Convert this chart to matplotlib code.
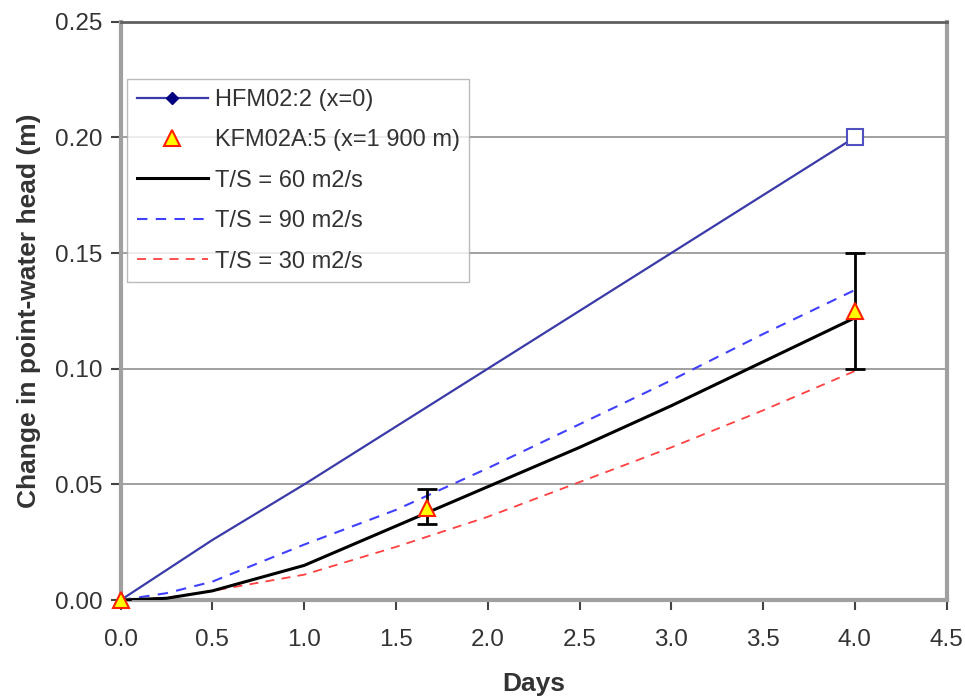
import numpy as np
import matplotlib.pyplot as plt
from matplotlib.lines import Line2D

plt.rcParams['font.family'] = ['Liberation Sans', 'DejaVu Sans']

# observed head change at HFM02:2
days_hfm = [0.0, 0.5, 1.0, 1.5, 2.0, 2.5, 3.0, 3.5, 4.0]
head_hfm = [0.0, 0.026, 0.050, 0.075, 0.100, 0.125, 0.150, 0.175, 0.200]

# observed at KFM02A:5 with error range
days_kfm = [0.0, 1.67, 4.0]
head_kfm = [0.0, 0.040, 0.125]
err_low = [0.0, 0.007, 0.025]
err_high = [0.0, 0.008, 0.025]

# model curves
days_mod = [0.0, 0.25, 0.5, 1.0, 1.5, 2.0, 2.5, 3.0, 3.5, 4.0]
ts60 = [0.0, 0.0008, 0.004, 0.015, 0.032, 0.049, 0.066, 0.084, 0.103, 0.122]
ts90 = [0.0, 0.003, 0.008, 0.024, 0.039, 0.057, 0.076, 0.095, 0.115, 0.134]
ts30 = [0.0, 0.001, 0.004, 0.011, 0.023, 0.036, 0.051, 0.066, 0.082, 0.099]

fig = plt.figure(figsize=(9.65, 6.97), dpi=100)
ax = fig.add_axes([0.125, 0.139, 0.856, 0.830])

for yv in [0.05, 0.10, 0.15, 0.20]:
	ax.axhline(yv, color='#999999', lw=1.3, zorder=0)

ax.plot(days_mod, ts30, color='#ff4040', ls=(0, (5, 4)), lw=1.3, zorder=2)
ax.plot(days_mod, ts90, color='#4040ff', ls=(0, (5, 4)), lw=1.5, zorder=2)
ax.plot(days_mod, ts60, color='black', lw=2.2, zorder=3)
ax.plot(days_hfm, head_hfm, color='#3a3aa8', lw=1.6, zorder=3)
ax.plot(days_hfm[-1], head_hfm[-1], marker='s', ms=11, mfc='white', mec='#5050c0', mew=1.5, ls='none', zorder=5)
ax.errorbar(days_kfm, head_kfm, yerr=[err_low, err_high], fmt='none', ecolor='black', elinewidth=2, capsize=7, capthick=2, zorder=4)
ax.plot(days_kfm, head_kfm, marker='^', ms=12, mfc='#ffff00', mec='#ff2000', mew=1.5, ls='none', zorder=6, clip_on=False)

ax.set_xlim(0, 4.5)
ax.set_ylim(0, 0.25)
xt = np.arange(0, 4.51, 0.5)
yt = np.arange(0, 0.251, 0.05)
ax.set_xticks(xt)
ax.set_yticks(yt)
ax.set_xticklabels(['%.1f' % v for v in xt])
ax.set_yticklabels(['%.2f' % v for v in yt])
ax.tick_params(labelsize=17.5, labelcolor='#333333', length=7, width=1.5, color='#444444', pad=6)
ax.tick_params(axis='x', pad=14)

for s in ['left', 'bottom', 'right']:
	ax.spines[s].set_color('#a0a0a0')
	ax.spines[s].set_linewidth(3)
ax.spines['top'].set_color('#606060')
ax.spines['top'].set_linewidth(2)

ax.set_xlabel('Days', fontsize=19, fontweight='bold', color='#333333', labelpad=15)
ax.set_ylabel('Change in point-water head (m)', fontsize=19, fontweight='bold', color='#333333', labelpad=10)

handles = [
	Line2D([], [], color='#3a3aa8', lw=1.6, marker='D', ms=6, mfc='#000080', mec='#000080'),
	Line2D([], [], ls='none', marker='^', ms=12, mfc='#ffff00', mec='#ff2000', mew=1.5),
	Line2D([], [], color='black', lw=2.2),
	Line2D([], [], color='#4040ff', ls=(0, (5, 4)), lw=1.5),
	Line2D([], [], color='#ff4040', ls=(0, (5, 4)), lw=1.3),
]
labels = ['HFM02:2 (x=0)', 'KFM02A:5 (x=1 900 m)', 'T/S = 60 m2/s', 'T/S = 90 m2/s', 'T/S = 30 m2/s']
leg = ax.legend(handles, labels, loc='upper left', bbox_to_anchor=(0.008, 0.9), fontsize=17,
	frameon=True, fancybox=False, edgecolor='#aaaaaa', handlelength=3.0, labelspacing=0.78,
	borderpad=0.4, handletextpad=0.3, borderaxespad=0)
leg.get_frame().set_linewidth(1.0)
for t in leg.get_texts():
	t.set_color('#333333')

fig.savefig('out.png', dpi=100)
